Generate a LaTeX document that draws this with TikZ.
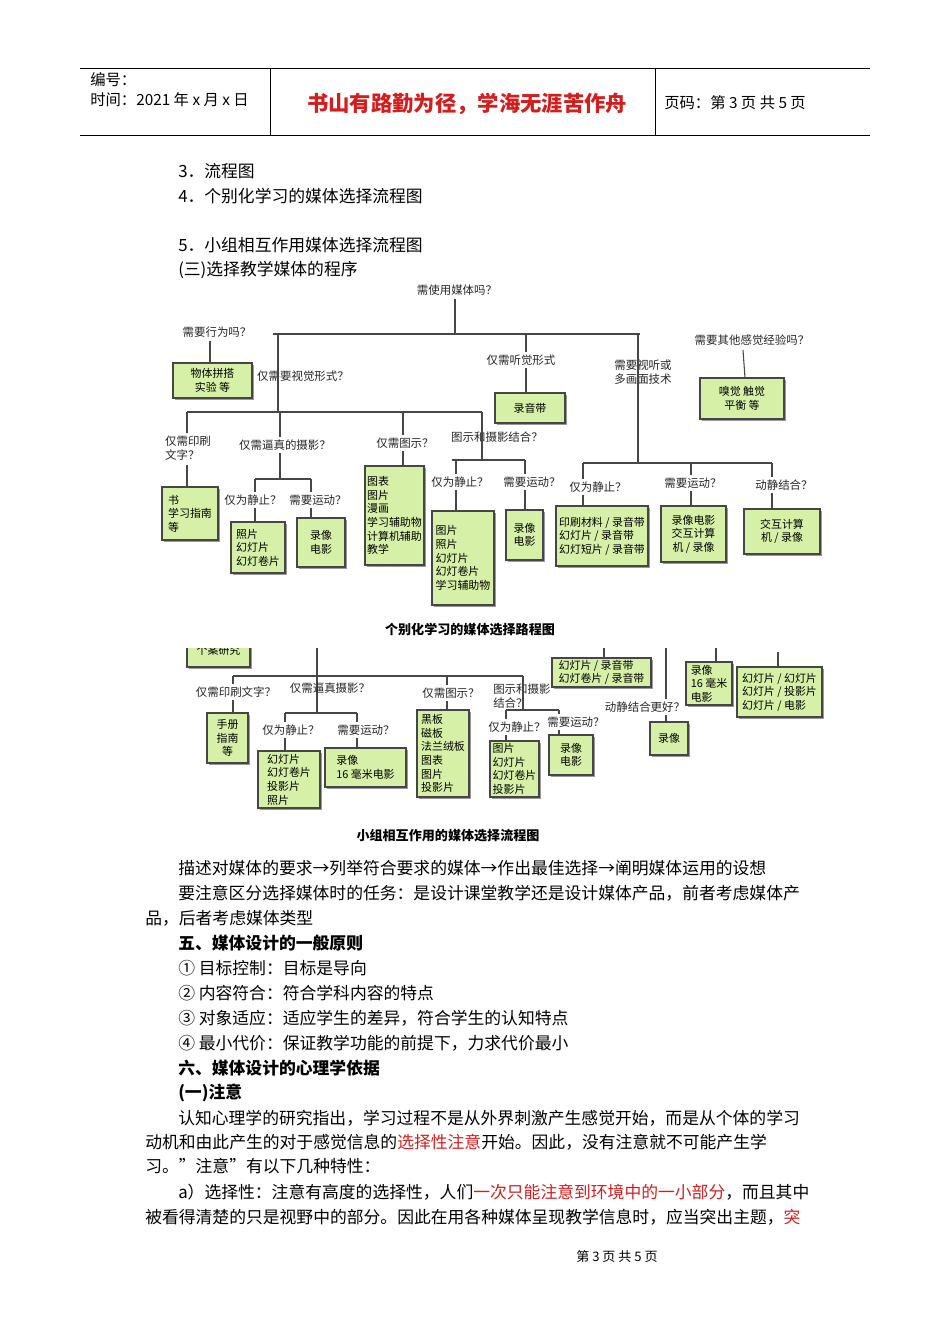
\documentclass[tikz,border=0pt]{standalone}
\usepackage{fontspec}
\setmainfont{Noto Sans CJK SC}
\definecolor{boxg}{RGB}{214,240,168}
\definecolor{ln}{RGB}{70,70,70}
\definecolor{redt}{RGB}{210,30,30}
\tikzset{
 bx/.style={draw=ln,line width=0.9pt,fill=boxg,inner sep=1pt,font=\fontsize{8.2}{10.2}\selectfont},
 lab/.style={inner sep=0pt,font=\fontsize{8.6}{10.2}\selectfont,text=black!85},
 cn/.style={draw=ln,line width=0.8pt},
 body/.style={anchor=west,inner sep=0pt,font=\fontsize{12.6}{14}\selectfont},
 bold/.style={anchor=west,inner sep=0pt,font=\fontsize{12.6}{14}\selectfont\bfseries},
}
\newcommand{\bxx}[7]{\fill[black!40] ({#2+2},{#3+2}) rectangle ({#4+2},{#5+2});
 \node[bx,align=#7,minimum width={(#4-#2)*0.75pt},minimum height={(#5-#3)*0.75pt}] (#1) at ({(#2+#4)/2},{(#3+#5)/2}) {#6};}
\begin{document}
\begin{tikzpicture}[x=0.75pt,y=-0.75pt]
\useasboundingbox[fill=white] (0,0) rectangle (950,1344);
% header
\draw[line width=0.6pt] (80,68) -- (870,68) (80,135) -- (870,135) (270,68) -- (270,135) (655,68) -- (655,135);
\node[anchor=west,inner sep=0pt,font=\fontsize{11.5}{13}\selectfont] (h1) at (90,80) {编号：};
\node[anchor=west,inner sep=0pt,font=\fontsize{11.5}{13}\selectfont] (h2) at (90,100) {时间：2021 年 x 月 x 日};
\node[inner sep=0pt,font=\fontsize{16}{17}\selectfont\bfseries,text=redt] (h3) at (467,104) {书山有路勤为径，学海无涯苦作舟};
\node[anchor=west,inner sep=0pt,font=\fontsize{11.5}{13}\selectfont] (h4) at (664,103) {页码：第 3 页 共 5 页};
% intro lines
\node[body] (t1) at (178,171) {3．流程图};
\node[body] (t2) at (178,196) {4．个别化学习的媒体选择流程图};
\node[body] (t3) at (178,245) {5．小组相互作用媒体选择流程图};
\node[body] (t4) at (178,270) {(三)选择教学媒体的程序};
% ===== diagram 1 =====
\node[lab] (q0) at (457,290) {需使用媒体吗？};
\coordinate (c0) at (455,334);
\draw[cn] (455,299) -- (c0);
\draw[cn] (273,334) -- (640,334);
\node[lab] (qa) at (217,332) {需要行为吗？};
\bxx{ba}{173}{363}{252}{398}{物体拼搭\\实验 等}{center}
\draw[cn] (210,341) -- (ba.north -| 210,0);
\node[lab] (qv) at (303,376) {仅需要视觉形式？};
\draw[cn] (278,334) -- (278,412);
\draw[cn] (187,412) -- (482,412);
\node[lab] (qh) at (521,360) {仅需听觉形式};
\bxx{bh}{495}{393}{565}{423}{录音带}{center}
\draw[cn] (526,334) -- (526,352) (526,368) -- (bh.north -| 526,0);
\node[lab,align=left] (qm) at (643,372) {需要视听或\\多画面技术};
\draw[cn] (638,334) -- (638,463);
\draw[cn] (583,463) -- (772,463);
\node[lab] (qo) at (752,340) {需要其他感觉经验吗？};
\bxx{bo}{700}{378}{784}{419}{嗅觉 触觉\\平衡 等}{center}
\draw[cn] (743,350) -- (745,378);
% visual branches
\node[lab,align=left] (qp) at (188,448) {仅需印刷\\文字？};
\bxx{bp}{162}{487}{218}{540}{书\\学习指南\\等}{left}
\draw[cn] (187,412) -- (187,433) (187,465) -- (187,487);
\node[lab] (qr) at (285,445) {仅需逼真的摄影？};
\draw[cn] (280,412) -- (280,437) (280,453) -- (280,479);
\draw[cn] (255,479) -- (311,479);
\node[lab] (qr1) at (253,500) {仅为静止？};
\node[lab] (qr2) at (318,500) {需要运动？};
\bxx{br1}{231}{522}{285}{573}{照片\\幻灯片\\幻灯卷片}{left}
\bxx{br2}{297}{518}{345}{567}{录像\\电影}{center}
\draw[cn] (255,479) -- (255,492) (255,508) -- (255,522);
\draw[cn] (311,479) -- (311,492) (311,508) -- (311,518);
\node[lab] (qg) at (405,443) {仅需图示？};
\draw[cn] (403,412) -- (403,435) (403,451) -- (403,466);
\bxx{bg}{365}{466}{424}{565}{图表\\图片\\漫画\\学习辅助物\\计算机辅助\\教学}{left}
\node[lab] (qc) at (497,437) {图示和摄影结合？};
\draw[cn] (482,412) -- (482,460);
\draw[cn] (452,460) -- (525,460);
\node[lab] (qc1) at (460,482) {仅为静止？};
\node[lab] (qc2) at (532,482) {需要运动？};
\bxx{bc1}{432}{511}{494}{605}{图片\\照片\\幻灯片\\幻灯卷片\\学习辅助物}{left}
\bxx{bc2}{506}{510}{543}{560}{录像\\电影}{center}
\draw[cn] (456,460) -- (456,474) (456,490) -- (456,511);
\draw[cn] (525,460) -- (525,474) (525,490) -- (525,510);
% audiovisual branches
\node[lab] (qm1) at (598,487) {仅为静止？};
\node[lab] (qm2) at (693,483) {需要运动？};
\node[lab] (qm3) at (784,485) {动静结合？};
\bxx{bm1}{556}{506}{648}{566}{印刷材料 / 录音带\\幻灯片 / 录音带\\幻灯短片 / 录音带}{left}
\bxx{bm2}{661}{506}{726}{562}{录像电影\\交互计算\\机 / 录像}{center}
\bxx{bm3}{744}{509}{820}{554}{交互计算\\机 / 录像}{center}
\draw[cn] (583,463) -- (583,479) (583,495) -- (583,506);
\draw[cn] (691,463) -- (691,475) (691,491) -- (691,506);
\draw[cn] (772,463) -- (772,477) (772,493) -- (772,509);
\node[inner sep=0pt,font=\fontsize{9.8}{11}\selectfont\bfseries] (cap1) at (470,630) {个别化学习的媒体选择路程图};
% ===== diagram 2 =====
\begin{scope}
\clip (150,648) rectangle (840,900);
\bxx{bk}{187}{630}{250}{667}{\\个案研究}{center}
\end{scope}
\draw[cn] (317,648) -- (317,713);
\draw[cn] (233,676) -- (523,676);
\node[lab] (s1) at (236,692) {仅需印刷文字？};
\bxx{bs1}{207}{713}{248}{763}{手册\\指南\\等}{center}
\draw[cn] (233,676) -- (233,684) (233,700) -- (233,713);
\node[lab] (s2) at (330,688) {仅需逼真摄影？};
\draw[cn] (285,713) -- (357,713);
\node[lab] (s21) at (291,730) {仅为静止？};
\node[lab] (s22) at (366,730) {需要运动？};
\bxx{bs21}{258}{751}{320}{808}{幻灯片\\幻灯卷片\\投影片\\照片}{left}
\bxx{bs22}{325}{748}{406}{787}{录像\\16 毫米电影}{left}
\draw[cn] (285,713) -- (285,722) (285,738) -- (285,751);
\draw[cn] (357,713) -- (357,722) (357,738) -- (357,748);
\node[lab] (s3) at (451,693) {仅需图示？};
\draw[cn] (447,676) -- (447,685);
\draw[cn] (447,701) -- (447,710);
\bxx{bs3}{417}{710}{469}{797}{黑板\\磁板\\法兰绒板\\图表\\图片\\投影片}{left}
\node[lab,anchor=west,align=left] (s4) at (493,696) {图示和摄影\\结合？};
\draw[cn] (523,676) -- (523,710);
\draw[cn] (506,710) -- (559,710);
\node[lab] (s41) at (517,727) {仅为静止？};
\node[lab] (s42) at (576,722) {需要运动？};
\bxx{bs41}{490}{741}{539}{797}{图片\\幻灯片\\幻灯卷片\\投影片}{left}
\bxx{bs42}{549}{735}{593}{775}{录像\\电影}{center}
\draw[cn] (506,710) -- (506,719) (506,735) -- (506,741);
\draw[cn] (559,710) -- (559,714) (559,730) -- (559,735);
\bxx{bt1}{552}{658}{651}{687}{幻灯片 / 录音带\\幻灯卷片 / 录音带}{left}
\draw[cn] (604,648) -- (604,658);
\draw[cn] (666,648) -- (666,699) (666,715) -- (666,722);
\node[lab] (s5) at (645,707) {动静结合更好？};
\bxx{bt2}{650}{722}{688}{755}{录像}{center}
\bxx{bt3}{686}{662}{732}{705}{录像\\16 毫米\\电影}{left}
\draw[cn] (716,648) -- (716,662);
\bxx{bt4}{737}{667}{822}{717}{幻灯片 / 幻灯片\\幻灯片 / 投影片\\幻灯片 / 电影}{left}
\draw[cn] (778,652) -- (778,667);
\node[inner sep=0pt,font=\fontsize{9.8}{11}\selectfont\bfseries] (cap2) at (448,836) {小组相互作用的媒体选择流程图};
% ===== text =====
\node[body] (p1) at (178,868) {描述对媒体的要求→列举符合要求的媒体→作出最佳选择→阐明媒体运用的设想};
\node[body] (p2) at (178,893) {要注意区分选择媒体时的任务：是设计课堂教学还是设计媒体产品，前者考虑媒体产};
\node[body] (p3) at (145,918) {品，后者考虑媒体类型};
\node[bold] (p4) at (178,943) {五、媒体设计的一般原则};
\node[body] (p5) at (178,968) {① 目标控制：目标是导向};
\node[body] (p6) at (178,993) {② 内容符合：符合学科内容的特点};
\node[body] (p7) at (178,1018) {③ 对象适应：适应学生的差异，符合学生的认知特点};
\node[body] (p8) at (178,1043) {④ 最小代价：保证教学功能的前提下，力求代价最小};
\node[bold] (p9) at (178,1068) {六、媒体设计的心理学依据};
\node[bold] (p10) at (178,1093) {(一)注意};
\node[body] (p11) at (178,1118) {认知心理学的研究指出，学习过程不是从外界刺激产生感觉开始，而是从个体的学习};
\node[body] (p12) at (145,1142) {动机和由此产生的对于感觉信息的\textcolor{redt}{选择性注意}开始。因此，没有注意就不可能产生学};
\node[body] (p13) at (145,1166) {习。"注意"有以下几种特性：};
\node[body] (p14) at (178,1192) {a）选择性：注意有高度的选择性，人们\textcolor{redt}{一次只能注意到环境中的一小部分}，而且其中};
\node[body] (p15) at (145,1217) {被看得清楚的只是视野中的部分。因此在用各种媒体呈现教学信息时，应当突出主题，\textcolor{redt}{突}};
\node[inner sep=0pt,font=\fontsize{9.8}{11}\selectfont] (ft) at (617,1257) {第 3 页 共 5 页};
\end{tikzpicture}
\end{document}
